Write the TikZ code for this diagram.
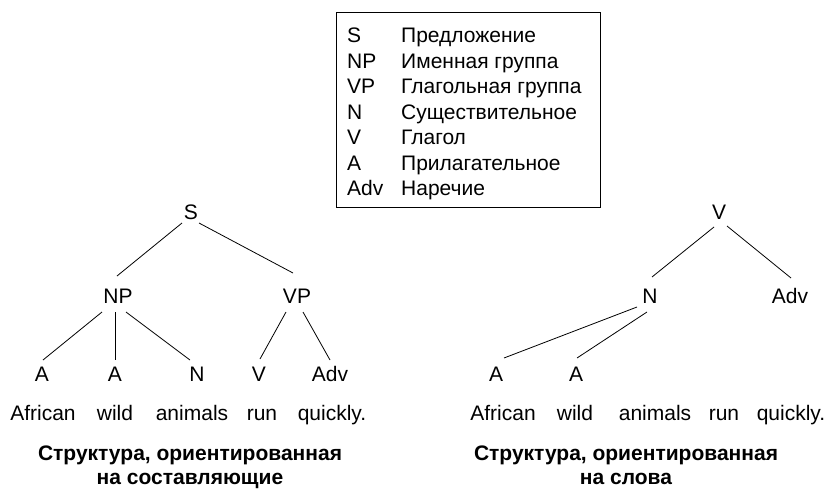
\documentclass[tikz,border=0pt]{standalone}
\usepackage{fontspec}
\setmainfont{Liberation Sans}
\usetikzlibrary{calc}
\begin{document}
\begin{tikzpicture}[x=1pt,y=-1pt,
  lab/.style={font=\fontsize{21}{25}\selectfont, inner sep=0pt, text height=15pt, text depth=0pt},
  wrd/.style={font=\fontsize{21}{25}\selectfont, inner sep=0pt, anchor=base},
  leg/.style={font=\fontsize{21}{25}\selectfont, inner sep=0pt, anchor=base west},
  captxt/.style={font=\bfseries\fontsize{21}{25}\selectfont, inner sep=0pt, anchor=base},
  edge/.style={draw=black, line width=0.8pt}]
\useasboundingbox (0,0) rectangle (828,488);
% legend
\node[draw, line width=0.9pt, minimum width=264pt, minimum height=195pt, inner sep=0pt] (legend) at (468,109.5) {};
\foreach \i/\a/\b in {0/S/Предложение,1/NP/Именная группа,2/VP/Глагольная группа,3/N/Существительное,4/V/Глагол,5/A/Прилагательное,6/Adv/Наречие}{
  \node[leg] (la\i) at (347,42.5+25.5*\i) {\a};
  \node[leg] (lb\i) at (401,42.5+25.5*\i) {\b};
}
% left tree
\node[lab] (S) at (191,212) {S};
\node[lab] (NP) at (118,296) {NP};
\node[lab] (VP) at (297,296) {VP};
\node[lab] (A1) at (42,374) {A};
\node[lab] (A2) at (115,374) {A};
\node[lab] (N) at (197,374) {N};
\node[lab] (V) at (259,374) {V};
\node[lab] (Adv) at (330,374) {Adv};
\draw[edge] ($(S)+(-9,11)$) -- ($(NP)+(-1,-20)$);
\draw[edge] ($(S)+(8,11)$) -- ($(VP)+(-4,-23)$);
\draw[edge] ($(NP)+(-16,16)$) -- ($(A1)+(1,-14)$);
\draw[edge] ($(NP)+(-3,16)$) -- ($(A2)+(0,-14)$);
\draw[edge] ($(NP)+(8,16)$) -- ($(N)+(-7,-14)$);
\draw[edge] ($(VP)+(-11,16)$) -- ($(V)+(1,-15)$);
\draw[edge] ($(VP)+(6,16)$) -- ($(Adv)+(0,-14)$);
\node[wrd] (w1) at (43,420) {African};
\node[wrd] (w2) at (115,420) {wild};
\node[wrd] (w3) at (192,420) {animals};
\node[wrd] (w4) at (262,420) {run};
\node[wrd] (w5) at (332,420) {quickly.};
% right tree
\node[lab] (RV) at (719,212) {V};
\node[lab] (RN) at (650,296) {N};
\node[lab] (RAdv) at (790,296) {Adv};
\node[lab] (RA1) at (496,374) {A};
\node[lab] (RA2) at (576,374) {A};
\draw[edge] ($(RV)+(-5,15)$) -- ($(RN)+(2,-19)$);
\draw[edge] ($(RV)+(8,14)$) -- ($(RAdv)+(1,-18)$);
\draw[edge] ($(RN)+(-13,11)$) -- ($(RA1)+(8,-16)$);
\draw[edge] ($(RN)+(-3,16)$) -- ($(RA2)+(1,-16)$);
\node[wrd] (r1) at (503,420) {African};
\node[wrd] (r2) at (575,420) {wild};
\node[wrd] (r3) at (655,420) {animals};
\node[wrd] (r4) at (724,420) {run};
\node[wrd] (r5) at (791,420) {quickly.};
% captions
\node[captxt] (c1) at (190,460) {Структура, ориентированная};
\node[captxt] (c2) at (190,484) {на составляющие};
\node[captxt] (c3) at (626,460) {Структура, ориентированная};
\node[captxt] (c4) at (626,484) {на слова};
\end{tikzpicture}
\end{document}
